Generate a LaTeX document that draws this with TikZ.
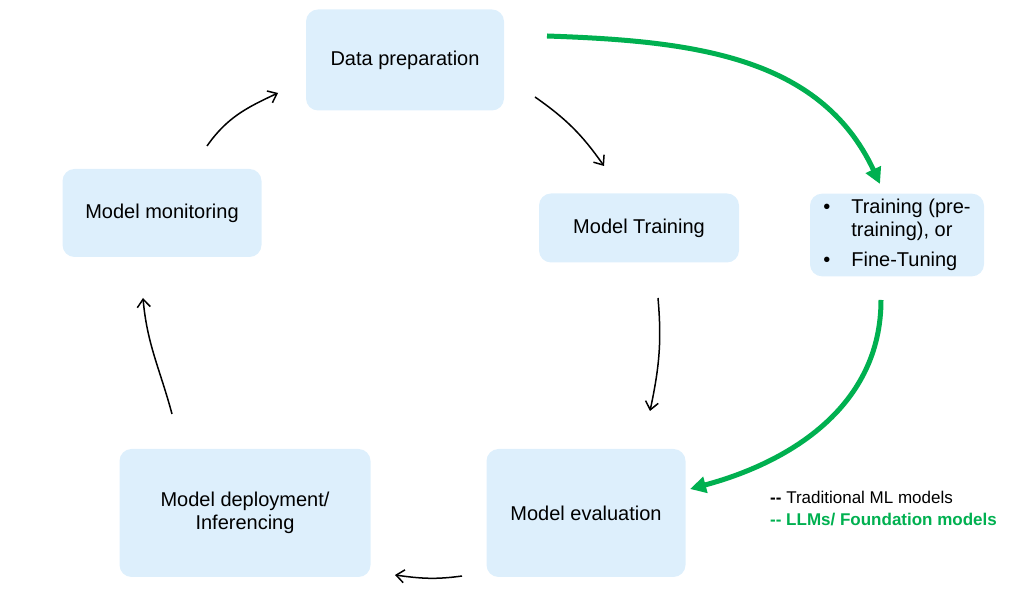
\documentclass[tikz,border=0pt]{standalone}
\usepackage{fontspec}
\setmainfont{Liberation Sans}
\usetikzlibrary{arrows.meta}
\definecolor{boxblue}{HTML}{DDEFFC}
\definecolor{llmgreen}{HTML}{00B050}
\tikzstyle{stage}=[rectangle, rounded corners=12pt, fill=boxblue, text centered, align=center, font=\fontsize{20}{23}\selectfont]
\tikzstyle{arrow1}=[line width=1.5pt, ->, >={Straight Barb[length=8pt,width=13pt]}]
\tikzstyle{arrow2}=[line width=5pt, llmgreen, ->, >={Triangle[length=16pt,width=16pt]}]

\begin{document}
\begin{tikzpicture}[x=1pt, y=1pt]
\useasboundingbox (0,0) rectangle (1015,607);
\node (data) [stage, minimum width=198pt, minimum height=101pt] at (405,547) {Data preparation};
\node (mon) [stage, minimum width=199pt, minimum height=88pt] at (162,394) {Model monitoring};
\node (train) [stage, minimum width=200pt, minimum height=69pt] at (639,379) {Model Training};
\node (bullets) [stage, minimum width=174pt, minimum height=79pt] at (897,372) {\begin{tabular}{@{}l@{\hspace{21pt}}l@{}}\textbullet & Training (pre-\\ & training), or\\[7pt] \textbullet & Fine-Tuning\end{tabular}};
\node (deploy) [stage, minimum width=251pt, minimum height=128pt] at (245,94) {Model deployment/\\Inferencing};
\node (eval) [stage, minimum width=199pt, minimum height=128pt] at (586,94) {Model evaluation};
\node (legend) [anchor=west, align=left, inner sep=0pt, font=\fontsize{17}{22}\selectfont] at (770,98) {\textbf{-{}-} Traditional ML models\\\textcolor{llmgreen}{\bfseries -{}- LLMs/ Foundation models}};
% classic ML cycle
\draw[arrow1] ([shift={(45,67)}]mon.center) to[out=55, in=205] ([shift={(-127,-33)}]data.center);
\draw[arrow1] ([shift={(130,-37)}]data.center) to[out=-35, in=125] ([shift={(-35,62)}]train.center);
\draw[arrow1] ([shift={(19,-70)}]train.center) to[out=-85, in=78] ([shift={(64,102)}]eval.center);
\draw[arrow1] ([shift={(-124,-63)}]eval.center) to[out=188, in=-8] ([shift={(150,-62)}]deploy.center);
\draw[arrow1] ([shift={(-73,99)}]deploy.center) to[out=105, in=-85] ([shift={(-19,-85)}]mon.center);
% LLM path
\draw[arrow2] ([shift={(142,24)}]data.center) to[out=-2, in=115] ([shift={(-17,51)}]bullets.center);
\draw[arrow2] ([shift={(-16,-65)}]bullets.center) to[out=-90, in=15] ([shift={(104,24)}]eval.center);
\end{tikzpicture}
\end{document}
